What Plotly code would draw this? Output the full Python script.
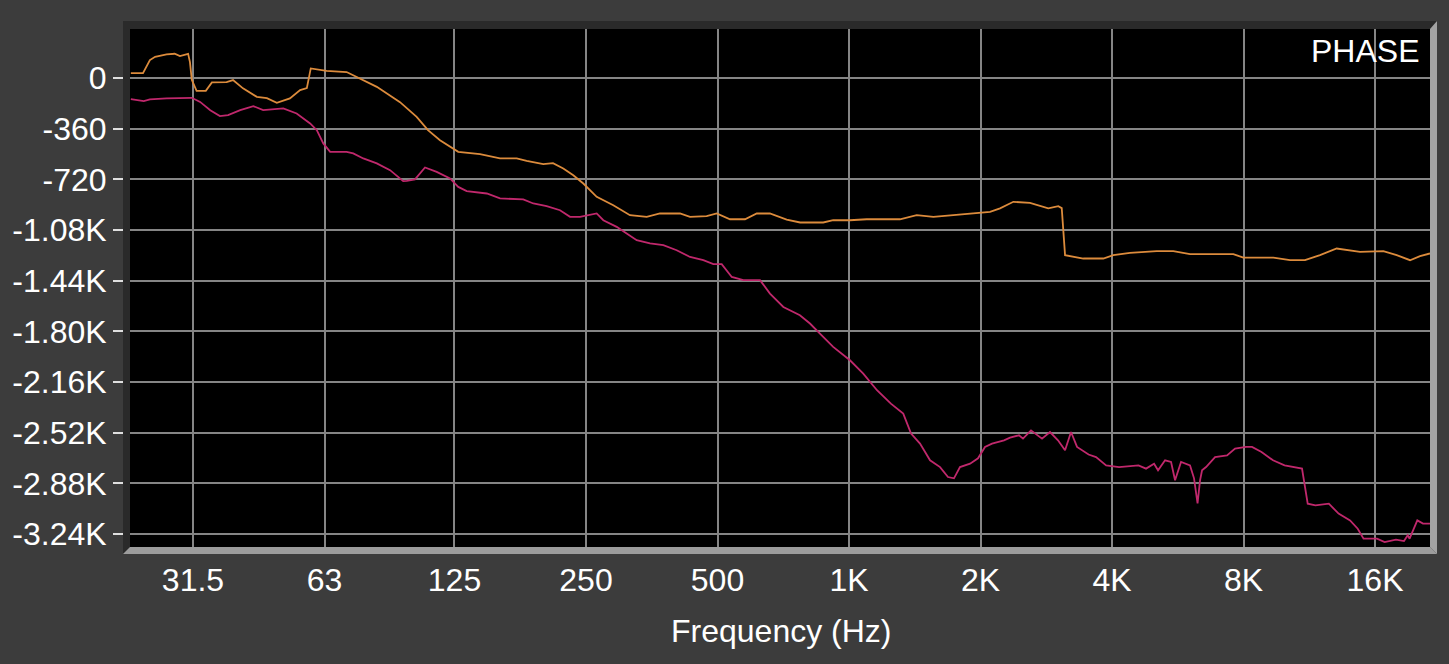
import plotly.graph_objects as go

# ---- data (frequency in Hz, phase in degrees) ----
freq_orange = [22.7, 24.2, 25.1, 25.8, 27.4, 28.6, 29.4, 30.7, 31.0, 31.3, 32.1, 33.7, 34.8, 37.6, 38.9,
               41.0, 44.1, 46.5, 49.0, 52.5, 55.4, 57.4, 58.6, 63.7, 70.8, 74.7, 83.0, 93.8, 102.4, 108.7,
               115.8, 127.5, 143, 158.9, 173.5, 182.9, 199.6, 210.1, 221.8, 233.8, 246.5, 264.5, 288.7,
               315.2, 344.3, 369.2, 410.3, 432.5, 472.2, 498, 534, 578, 615, 659, 720, 773, 873, 920, 1005,
               1098, 1308, 1429, 1560, 1733, 1961, 2103, 2217, 2378, 2596, 2737, 2859, 3014, 3069, 3123,
               3438, 3821, 4028, 4398, 5063, 5526, 6035, 7582, 7992, 9362, 10222, 11063, 11973, 13073,
               14021, 14786, 16717, 17939, 19243, 20283, 21379]
phase_orange = [36, 36, 128, 151, 168, 173, 156, 173, 114, -12, -90, -90, -31, -28, -14,
                -73, -133, -142, -176, -144, -85, -71, 69, 52, 43, 9, -62, -171, -275, -370,
                -441, -524, -540, -571, -571, -588, -611, -604, -642, -690, -749, -844, -903,
                -974, -986, -962, -962, -986, -981, -962, -1003, -1003, -962, -962, -1005, -1026, -1026, -1010, -1010,
                -1003, -1003, -974, -986, -974, -962, -951, -926, -879, -887, -910, -926, -910, -924, -1258,
                -1282, -1282, -1258, -1242, -1230, -1230, -1251, -1251, -1275, -1275, -1294, -1294, -1258, -1211,
                -1223, -1235, -1230, -1258, -1294, -1265, -1246]

freq_magenta = [22.7, 24.3, 25.1, 27.4, 31.3, 32.7, 34.5, 36.3, 37.9, 40.4, 43.3, 45.6, 50.7, 54.4, 58.4,
                60.5, 62.6, 64.9, 70.8, 73.3, 77.3, 83.0, 89.0, 95.4, 97.2, 101.5, 107.0, 113.8, 122.1,
                127.5, 133.3, 148.2, 158.9, 179.6, 189.4, 203.2, 218.0, 229.8, 242.2, 264.5, 273.9, 293.9,
                309.8, 326.6, 350.3, 375.8, 403.2, 432.6, 464.0, 489.2, 511.2, 539.0, 572.9, 625.6, 659.3,
                707.5, 772, 814, 858, 920, 1005, 1078, 1159, 1247, 1331, 1387, 1454, 1533, 1616, 1685, 1739,
                1795, 1893, 1974, 2048, 2125, 2264, 2337, 2450, 2502, 2610, 2766, 2885, 3009, 3123, 3223,
                3327, 3535, 3677, 3878, 4151, 4600, 4786, 4993, 5099, 5291, 5461, 5577, 5756, 6035, 6164,
                6279, 6362, 6430, 6567, 6886, 7335, 7651, 8107, 8367, 8797, 9346, 9933, 10550, 10890, 11222,
                11688, 12546, 13204, 14028, 14607, 15061, 16170, 16832, 17873, 18643, 19010, 19200, 19997,
                20607, 21379]
phase_magenta = [-149, -164, -151, -144, -140, -169, -228, -270, -263, -228, -199, -228, -215, -251, -322,
                 -370, -464, -524, -524, -535, -571, -606, -654, -732, -730, -720, -635, -666, -713,
                 -773, -803, -820, -855, -862, -891, -910, -939, -986, -986, -962, -1010, -1057,
                 -1104, -1152, -1175, -1187, -1223, -1271, -1294, -1322, -1322, -1413, -1436, -1436, -1531,
                 -1626, -1685, -1744, -1815, -1910, -2005, -2100, -2218, -2313, -2384, -2526, -2597, -2716, -2764, -2835, -2844,
                 -2764, -2740, -2702, -2621, -2597, -2574, -2555, -2538, -2562, -2503, -2562, -2515, -2574, -2645, -2515,
                 -2621, -2675, -2693, -2752, -2764, -2752, -2775, -2740, -2787, -2716, -2728, -2858, -2728, -2752, -2844,
                 -3022, -2858, -2787, -2764, -2693, -2681, -2633, -2621, -2621, -2657, -2716, -2752, -2768, -2775, -3024,
                 -3036, -3024, -3095, -3143, -3202, -3273, -3273, -3297, -3280, -3290, -3249, -3273, -3143,
                 -3166, -3166]

x_tickvals = [31.5, 63, 125, 250, 500, 1000, 2000, 4000, 8000, 16000]
x_ticktext = ["31.5", "63", "125", "250", "500", "1K", "2K", "4K", "8K", "16K"]
y_tickvals = [0, -360, -720, -1080, -1440, -1800, -2160, -2520, -2880, -3240]
y_ticktext = ["0", "-360", "-720", "-1.08K", "-1.44K", "-1.80K", "-2.16K", "-2.52K", "-2.88K", "-3.24K"]

FONT = "Liberation Sans, Arial, sans-serif"
FS = 32

fig = go.Figure()
fig.add_trace(go.Scatter(x=freq_orange, y=phase_orange, mode="lines",
                         line=dict(color="#dc8b3c", width=1.8), showlegend=False))
fig.add_trace(go.Scatter(x=freq_magenta, y=phase_magenta, mode="lines",
                         line=dict(color="#c0286c", width=1.8), showlegend=False))

fig.update_layout(
    width=1449, height=664,
    margin=dict(l=130, r=19, t=29, b=117, autoexpand=False),
    paper_bgcolor="#3c3c3c",
    plot_bgcolor="#000000",
    font=dict(family=FONT, size=FS, color="#ffffff"),
    xaxis=dict(type="log", range=[1.3541, 4.33], tickvals=x_tickvals, ticktext=x_ticktext,
               showgrid=True, gridcolor="#858585", gridwidth=2, zeroline=False,
               showline=False, ticks="", ticklabelstandoff=11,
               tickfont=dict(size=FS, color="#ffffff")),
    yaxis=dict(range=[-3332, 349], tickvals=y_tickvals, ticktext=y_ticktext,
               showgrid=True, gridcolor="#858585", gridwidth=2, zeroline=False,
               showline=False, ticks="outside", ticklen=16, tickwidth=2, tickcolor="#e0e0e0",
               tickfont=dict(size=FS, color="#ffffff")),
)

# bevelled frame around the plot area
fx0, fx1 = -7 / 1300, 1 + 7 / 1300
fy0, fy1 = -7 / 518, 1 + 8 / 518
fig.add_shape(type="rect", xref="paper", yref="paper", x0=fx0, x1=fx1, y0=1, y1=fy1,
              fillcolor="#2a2a2a", line=dict(width=0), layer="above")
fig.add_shape(type="rect", xref="paper", yref="paper", x0=fx0, x1=0, y0=fy0, y1=fy1,
              fillcolor="#2a2a2a", line=dict(width=0), layer="above")
fig.add_shape(type="path", xref="paper", yref="paper",
              path=f"M 1,1 L {fx1},{fy1} L {fx1},{fy0} L 1,0 Z",
              fillcolor="#a3a3a3", line=dict(width=0), layer="above")
fig.add_shape(type="path", xref="paper", yref="paper",
              path=f"M 0,0 L 1,0 L {fx1},{fy0} L {fx0},{fy0} Z",
              fillcolor="#9c9c9c", line=dict(width=0), layer="above")

fig.add_annotation(text="PHASE", xref="paper", yref="paper", x=(1421 - 130) / 1300, y=(547 - 51) / 518,
                   xanchor="right", yanchor="middle", showarrow=False,
                   font=dict(family=FONT, size=FS, color="#ffffff"))
fig.add_annotation(text="Frequency (Hz)", xref="paper", yref="paper", x=(781 - 130) / 1300,
                   y=(547 - 631) / 518, xanchor="center", yanchor="middle", showarrow=False,
                   font=dict(family=FONT, size=FS, color="#ffffff"))

fig.write_html("out.html")
